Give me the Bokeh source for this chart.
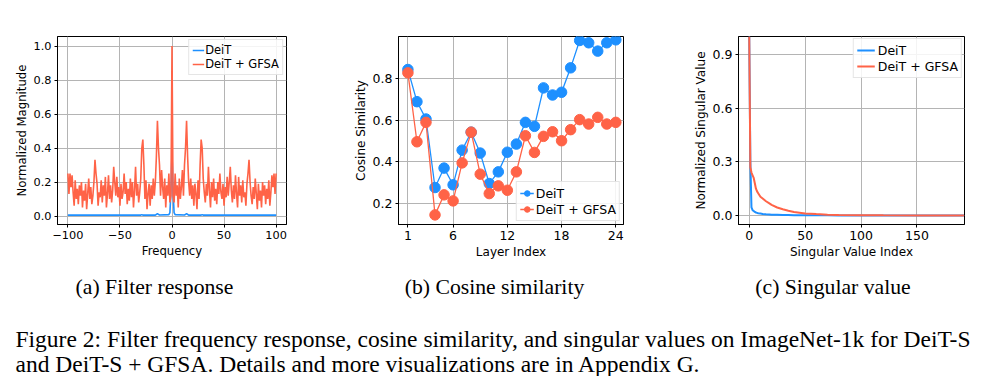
from bokeh.plotting import figure
from bokeh.models import Range1d, FixedTicker, CustomJSTickFormatter
from bokeh.layouts import column, row
from bokeh.core.properties import value
from bokeh.embed import file_html
from bokeh.resources import INLINE

# ---------------- data ----------------
# (a) Filter response
freq = list(range(-100, 101))
deit_filter_freq = [-100, -30, -29, -28, -16, -15, -14, -13, -12, -3, -2, -1, 0,
                    1, 2, 3, 12, 13, 14, 15, 16, 28, 29, 30, 100]
deit_filter = [0.005, 0.005, 0.008, 0.005, 0.005, 0.010, 0.014, 0.010, 0.006, 0.008, 0.02, 0.15, 0.37,
               0.15, 0.02, 0.008, 0.006, 0.010, 0.014, 0.010, 0.005, 0.005, 0.008, 0.005, 0.005]
gfsa_filter = [
    0.25, 0.13, 0.25, 0.17, 0.24, 0.14, 0.06, 0.21, 0.10, 0.16,
    0.07, 0.18, 0.12, 0.20, 0.05, 0.15, 0.09, 0.19, 0.04, 0.13,
    0.22, 0.10, 0.17, 0.07, 0.12, 0.20, 0.33, 0.25, 0.19, 0.06,
    0.14, 0.11, 0.21, 0.08, 0.18, 0.12, 0.23, 0.05, 0.13, 0.24,
    0.10, 0.18, 0.08, 0.15, 0.29, 0.20, 0.12, 0.23, 0.11, 0.17,
    0.06, 0.19, 0.10, 0.14, 0.25, 0.13, 0.20, 0.07, 0.16, 0.09,
    0.22, 0.11, 0.20, 0.05, 0.15, 0.29, 0.12, 0.19, 0.08, 0.14,
    0.22, 0.40, 0.45, 0.30, 0.10, 0.21, 0.04, 0.13, 0.19, 0.06,
    0.18, 0.10, 0.22, 0.12, 0.20, 0.35, 0.56, 0.40, 0.30, 0.12,
    0.27, 0.17, 0.10, 0.22, 0.05, 0.18, 0.12, 0.25, 0.08, 0.12,
    1.00,
    0.12, 0.08, 0.25, 0.12, 0.18, 0.05, 0.22, 0.10, 0.17, 0.27,
    0.12, 0.30, 0.40, 0.56, 0.35, 0.20, 0.12, 0.22, 0.10, 0.18,
    0.06, 0.19, 0.13, 0.04, 0.21, 0.10, 0.30, 0.45, 0.40, 0.22,
    0.14, 0.08, 0.19, 0.12, 0.29, 0.15, 0.05, 0.20, 0.11, 0.22,
    0.09, 0.16, 0.07, 0.20, 0.13, 0.25, 0.14, 0.10, 0.19, 0.06,
    0.17, 0.11, 0.23, 0.12, 0.20, 0.29, 0.15, 0.08, 0.18, 0.10,
    0.24, 0.13, 0.05, 0.23, 0.12, 0.18, 0.08, 0.21, 0.11, 0.14,
    0.06, 0.19, 0.25, 0.33, 0.20, 0.12, 0.07, 0.17, 0.10, 0.22,
    0.13, 0.04, 0.19, 0.09, 0.15, 0.05, 0.20, 0.12, 0.18, 0.07,
    0.16, 0.10, 0.21, 0.06, 0.14, 0.24, 0.17, 0.25, 0.13, 0.25,
]

# (b) Cosine similarity
layers = [1, 2, 3, 4, 5, 6, 7, 8, 9, 10, 11, 12, 13, 14, 15, 16, 17, 18, 19, 20, 21, 22, 23, 24]
deit_cos = [0.842, 0.688, 0.605, 0.277, 0.370, 0.290, 0.456, 0.542, 0.442, 0.296, 0.352, 0.446,
            0.485, 0.589, 0.570, 0.754, 0.720, 0.733, 0.850, 0.981, 0.970, 0.930, 0.970, 0.984]
gfsa_cos = [0.826, 0.496, 0.589, 0.146, 0.242, 0.213, 0.395, 0.542, 0.341, 0.248, 0.285, 0.264,
            0.352, 0.525, 0.445, 0.522, 0.544, 0.501, 0.554, 0.602, 0.581, 0.613, 0.581, 0.589]

# (c) Singular value
sv_index = [0, 1, 2, 3, 4, 5, 6, 7, 8, 10, 12, 15, 18, 20, 25, 30, 35, 40, 50, 60, 70, 80, 100, 120, 150, 192]
deit_sv = [1.0, 0.30, 0.045, 0.030, 0.025, 0.020, 0.017, 0.015, 0.013, 0.011, 0.009, 0.007, 0.006,
           0.005, 0.004, 0.003, 0.0025, 0.002, 0.0015, 0.001, 0.001, 0.0005, 0.0003, 0.0002, 0.0001, 0.0]
gfsa_sv = [1.0, 0.27, 0.24, 0.225, 0.21, 0.18, 0.15, 0.135, 0.125, 0.105, 0.095, 0.080, 0.068,
           0.060, 0.045, 0.035, 0.027, 0.020, 0.012, 0.008, 0.005, 0.003, 0.0015, 0.001, 0.0005, 0.0]

series_labels = ["DeiT", "DeiT + GFSA"]
subcaptions = ["(a) Filter response", "(b) Cosine similarity", "(c) Singular value"]
caption_lines = [
    "Figure 2: Filter frequency response, cosine similarity, and singular values on ImageNet-1k for DeiT-S",
    "and DeiT-S + GFSA. Details and more visualizations are in Appendix G.",
]

BLUE = "#1e90ff"
RED = "#ff6347"
SANS = "DejaVu Sans"
SERIF = "Liberation Serif"
FIG_H = 262
TOP = 36
FRAME_H = 188


def style(p, xticks, yticks, xfmt, yfmt, xlabel, ylabel, tick_fs, label_fs):
    p.outline_line_color = "black"
    p.outline_line_width = 1
    p.outline_line_alpha = 1
    p.background_fill_color = "white"
    p.border_fill_color = "white"
    p.xaxis.ticker = FixedTicker(ticks=xticks)
    p.yaxis.ticker = FixedTicker(ticks=yticks)
    p.xaxis.formatter = CustomJSTickFormatter(code=xfmt)
    p.yaxis.formatter = CustomJSTickFormatter(code=yfmt)
    p.xaxis.axis_label = xlabel
    p.yaxis.axis_label = ylabel
    for ax in (p.xaxis, p.yaxis):
        ax.axis_line_color = "black"
        ax.major_tick_in = 0
        ax.major_tick_out = 3
        ax.minor_tick_line_color = None
        ax.major_tick_line_color = "black"
        ax.major_label_text_font = SANS
        ax.major_label_text_font_size = tick_fs
        ax.major_label_text_color = "black"
        ax.axis_label_text_font = SANS
        ax.axis_label_text_font_size = label_fs
        ax.axis_label_text_font_style = "normal"
        ax.axis_label_text_color = "black"
        ax.major_label_standoff = 3
        ax.axis_label_standoff = 2
    p.grid.grid_line_color = "#b4b4b4"
    p.grid.grid_line_width = 1
    p.grid.minor_grid_line_color = None


def style_legend(p, loc, fs):
    lg = p.legend[0]
    lg.location = loc
    lg.label_text_font = SANS
    lg.label_text_font_size = fs
    lg.label_text_color = "black"
    lg.border_line_color = "#cccccc"
    lg.border_line_width = 1
    lg.background_fill_alpha = 0.85
    lg.spacing = 0
    lg.padding = 3
    lg.margin = 3
    lg.label_standoff = 3


minus_fmt = "return (tick < 0 ? '\\u2212' : '') + Math.abs(tick).toFixed(0);"
int_fmt = "return tick.toFixed(0);"
one_fmt = "return tick.toFixed(1);"

# ---------------- (a) ----------------
pa = figure(width=340, height=FIG_H, output_backend="svg", toolbar_location=None,
            x_range=Range1d(-110, 110), y_range=Range1d(-0.05, 1.056),
            min_border_left=57, min_border_right=54, min_border_top=TOP,
            min_border_bottom=FIG_H - TOP - FRAME_H)
pa.line(deit_filter_freq, deit_filter, color=BLUE, line_width=1.6, legend_label=series_labels[0])
pa.line(freq, gfsa_filter, color=RED, line_width=1.6, legend_label=series_labels[1])
style(pa, [-100, -50, 0, 50, 100], [0, 0.2, 0.4, 0.6, 0.8, 1.0], minus_fmt, one_fmt,
      "Frequency", "Normalized Magnitude", "11.3px", "11.7px")
style_legend(pa, "top_right", "11.5px")
pa.legend[0].glyph_width = 12
pa.legend[0].glyph_height = 14
pa.legend[0].label_height = 14
pa.legend[0].label_standoff = 1

# ---------------- (b) ----------------
pb = figure(width=340, height=FIG_H, output_backend="svg", toolbar_location=None,
            x_range=Range1d(-0.04, 24.85), y_range=Range1d(0.1, 1.0),
            min_border_left=58, min_border_right=57, min_border_top=TOP,
            min_border_bottom=FIG_H - TOP - FRAME_H)
pb.line(layers, deit_cos, color=BLUE, line_width=1.3, legend_label=series_labels[0])
pb.scatter(layers, deit_cos, color=BLUE, size=10.5, legend_label=series_labels[0])
pb.line(layers, gfsa_cos, color=RED, line_width=1.3, legend_label=series_labels[1])
pb.scatter(layers, gfsa_cos, color=RED, size=10.5, legend_label=series_labels[1])
style(pb, [1, 6, 12, 18, 24], [0.2, 0.4, 0.6, 0.8], int_fmt, one_fmt,
      "Layer Index", "Cosine Similarity", "12.5px", "12px")
style_legend(pb, "bottom_right", "12.5px")
pb.legend[0].glyph_width = 14
pb.legend[0].glyph_height = 16
pb.legend[0].label_height = 16
pb.legend[0].label_standoff = 2

# ---------------- (c) ----------------
pc = figure(width=315, height=FIG_H, output_backend="svg", toolbar_location=None,
            x_range=Range1d(-9.6, 192.5), y_range=Range1d(-0.05, 1.0),
            min_border_left=58, min_border_right=31, min_border_top=TOP,
            min_border_bottom=FIG_H - TOP - FRAME_H)
pc.line(sv_index, deit_sv, color=BLUE, line_width=2, legend_label=series_labels[0])
pc.line(sv_index, gfsa_sv, color=RED, line_width=2, legend_label=series_labels[1])
style(pc, [0, 50, 100, 150], [0.0, 0.3, 0.6, 0.9], int_fmt, one_fmt,
      "Singular Value Index", "Normalized Singular Value", "12.5px", "12px")
style_legend(pc, "top_right", "12.5px")
pc.legend[0].glyph_width = 18
pc.legend[0].glyph_height = 16
pc.legend[0].label_height = 16
pc.legend[0].margin = 2

# ---------------- captions ----------------
CAP_TOP = FIG_H
CAP_H = 376 - FIG_H
cap = figure(width=995, height=CAP_H, output_backend="svg", toolbar_location=None,
             x_range=Range1d(0, 995), y_range=Range1d(CAP_TOP + CAP_H, CAP_TOP), min_border=0)
cap.axis.visible = False
cap.grid.visible = False
cap.outline_line_color = None
cap.text(x=[154, 494, 832.5], y=[286, 286, 286], text=subcaptions,
         text_font=value(SERIF), text_font_size="21.7px", text_align="center",
         text_baseline="alphabetic", text_color="black")
cap.text(x=[15, 15], y=[338, 363], text=caption_lines,
         text_font=value(SERIF), text_font_size="23.5px", text_align="left",
         text_baseline="alphabetic", text_color="black")

layout = column(row(pa, pb, pc, spacing=0), cap, spacing=0)
open("out.html", "w").write(file_html(layout, INLINE))
